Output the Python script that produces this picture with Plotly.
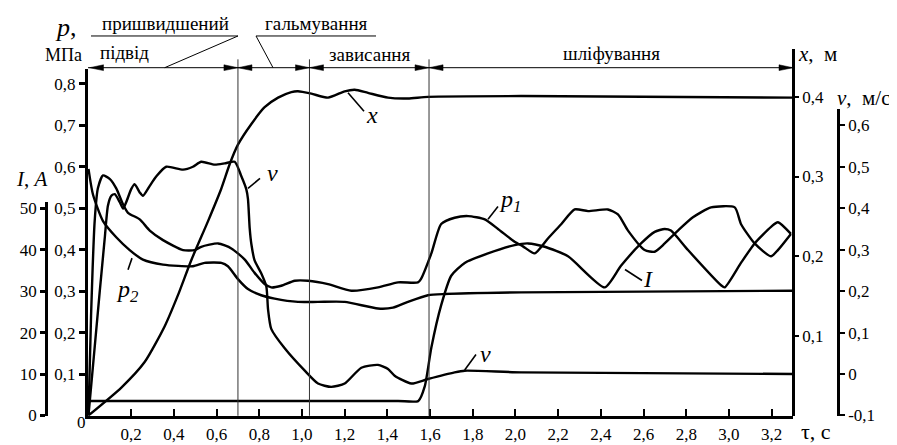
import plotly.graph_objects as go

# ---------------- data ----------------
tau_p1 = [0.0, 0.012, 0.029, 0.044, 0.068, 0.099, 0.130, 0.162, 0.185, 0.240, 0.287, 0.349,
          0.443, 0.497, 0.528, 0.607, 0.669, 0.732, 0.778, 0.825, 0.856, 0.903, 0.966, 1.028,
          1.122, 1.231, 1.356, 1.450, 1.543, 1.557, 1.606, 1.652, 1.715, 1.778, 1.856, 1.918,
          1.996, 2.035, 2.090, 2.152, 2.215, 2.277, 2.340, 2.433, 2.480, 2.527, 2.605, 2.652,
          2.699, 2.761, 2.831, 2.916, 3.027, 3.056, 3.120, 3.197, 3.229, 3.290]
p1 = [0.0, 0.24, 0.469, 0.548, 0.579, 0.571, 0.548, 0.509, 0.489, 0.473, 0.446, 0.423,
      0.399, 0.399, 0.407, 0.415, 0.403, 0.376, 0.344, 0.317, 0.309, 0.313, 0.325, 0.325,
      0.317, 0.301, 0.309, 0.321, 0.321, 0.329, 0.391, 0.462, 0.477, 0.481, 0.473, 0.450,
      0.419, 0.408, 0.391, 0.427, 0.462, 0.497, 0.493, 0.497, 0.485, 0.446, 0.399, 0.395,
      0.415, 0.446, 0.478, 0.502, 0.502, 0.462, 0.415, 0.384, 0.399, 0.438]

tau_p2 = [0.0, 0.021, 0.068, 0.130, 0.193, 0.255, 0.349, 0.489, 0.544, 0.622, 0.653, 0.700,
          0.747, 0.809, 0.872, 0.981, 1.075, 1.200, 1.356, 1.426, 1.496, 1.590, 1.668, 2.026, 3.300]
p2 = [0.595, 0.533, 0.469, 0.430, 0.399, 0.376, 0.364, 0.360, 0.368, 0.368, 0.360, 0.329,
      0.305, 0.290, 0.282, 0.274, 0.274, 0.274, 0.258, 0.260, 0.274, 0.290, 0.293, 0.297, 0.301]

tau_x = [0.0, 0.154, 0.263, 0.357, 0.419, 0.480, 0.560, 0.621, 0.662, 0.700, 0.763, 0.825,
         0.888, 0.950, 0.981, 1.044, 1.122, 1.200, 1.247, 1.309, 1.403, 1.496, 1.590, 2.026, 3.300]
x_pos = [0.0, 0.035, 0.067, 0.112, 0.151, 0.194, 0.244, 0.284, 0.316, 0.340, 0.366, 0.387,
         0.399, 0.406, 0.407, 0.404, 0.399, 0.407, 0.409, 0.405, 0.399, 0.398, 0.400, 0.401, 0.399]

tau_v = [0.0, 0.052, 0.076, 0.091, 0.107, 0.123, 0.146, 0.162, 0.177, 0.200, 0.216, 0.240,
         0.255, 0.287, 0.318, 0.364, 0.443, 0.489, 0.528, 0.591, 0.638, 0.685, 0.716, 0.739,
         0.747, 0.755, 0.763, 0.778, 0.809, 0.833, 0.841, 0.856, 0.919, 1.013, 1.075, 1.137,
         1.200, 1.278, 1.356, 1.403, 1.434, 1.512, 1.590, 1.715, 1.762, 2.026, 3.300]
v = [-0.1, 0.195, 0.327, 0.406, 0.430, 0.434, 0.415, 0.399, 0.415, 0.446, 0.458, 0.438,
     0.430, 0.454, 0.477, 0.500, 0.493, 0.500, 0.512, 0.505, 0.508, 0.512, 0.477, 0.446,
     0.422, 0.352, 0.313, 0.274, 0.243, 0.211, 0.156, 0.109, 0.062, 0.008, -0.023, -0.031,
     -0.023, 0.015, 0.022, 0.012, -0.004, -0.023, -0.012, 0.004, 0.008, 0.004, 0.0]

tau_I = [0.0, 0.5, 1.0, 1.45, 1.545, 1.575, 1.606, 1.652, 1.699, 1.762, 1.871, 1.996, 2.059,
         2.137, 2.246, 2.418, 2.494, 2.588, 2.652, 2.699, 2.728, 2.808, 2.963, 2.980, 3.056,
         3.120, 3.197, 3.229, 3.290]
I_cur = [3.5, 3.5, 3.5, 3.5, 3.5, 7.0, 16.4, 26.6, 33.7, 36.8, 39.1, 41.1, 41.5,
         40.7, 38.4, 30.9, 36.1, 41.5, 44.3, 45.0, 44.6, 39.9, 31.4, 30.9, 36.8,
         41.5, 45.5, 46.6, 43.8]

phase_bounds = [0.0, 0.70, 1.035, 1.595, 3.30]
phase_names = ["підвід", "гальмування", "зависання", "шліфування"]

tau_ticks = [0.2, 0.4, 0.6, 0.8, 1.0, 1.2, 1.4, 1.6, 1.8, 2.0, 2.2, 2.4, 2.6, 2.8, 3.0, 3.2]
tau_labels = ["0,2", "0,4", "0,6", "0,8", "1,0", "1,2", "1,4", "1,6", "1,8", "2,0",
              "2,2", "2,4", "2,6", "2,8", "3,0", "3,2"]
p_ticks = [0.1, 0.2, 0.3, 0.4, 0.5, 0.6, 0.7, 0.8]
p_labels = ["0,1", "0,2", "0,3", "0,4", "0,5", "0,6", "0,7", "0,8"]
x_ticks = [0.1, 0.2, 0.3, 0.4]
x_labels = ["0,1", "0,2", "0,3", "0,4"]
v_ticks = [-0.1, 0.0, 0.1, 0.2, 0.3, 0.4, 0.5, 0.6]
v_labels = ["-0,1", "0", "0,1", "0,2", "0,3", "0,4", "0,5", "0,6"]
I_ticks = [0, 10, 20, 30, 40, 50]
I_labels = ["0", "10", "20", "30", "40", "50"]

# ---------------- layout helpers (pixel -> paper) ----------------
W, H = 897, 445
def PX(x): return x / W
def PY(y): return 1 - y / H

SERIF = "Liberation Serif, Times New Roman, serif"
TF = dict(family=SERIF, size=17, color="black")
X0, X1 = 80.0, 785.0           # plot left / right in px
Y0 = 417.0                      # bottom (zero line) in px

fig = go.Figure()
ln = dict(color="black", width=2.4, shape="spline", smoothing=0.6)
fig.add_trace(go.Scatter(x=tau_p1, y=p1, mode="lines", line=ln, yaxis="y", name="p1"))
fig.add_trace(go.Scatter(x=tau_p2, y=p2, mode="lines", line=ln, yaxis="y", name="p2"))
fig.add_trace(go.Scatter(x=tau_x, y=x_pos, mode="lines", line=ln, yaxis="y2", name="x"))
fig.add_trace(go.Scatter(x=tau_v, y=v, mode="lines", line=ln, yaxis="y3", name="v"))
fig.add_trace(go.Scatter(x=tau_I, y=I_cur, mode="lines", line=ln, yaxis="y4", name="I"))

axcommon = dict(showgrid=False, zeroline=False, showline=True, linecolor="black",
                tickcolor="black", tickfont=TF)

fig.update_layout(
    width=W, height=H, margin=dict(l=0, r=0, t=0, b=0),
    paper_bgcolor="white", plot_bgcolor="rgba(0,0,0,0)", showlegend=False,
    xaxis=dict(domain=[PX(X0), PX(X1)], range=[-0.0023, 3.2998], anchor="y",
               linewidth=2.5, ticks="inside", ticklen=7, tickwidth=2,
               tickvals=tau_ticks, ticktext=tau_labels, ticklabelstandoff=1, **axcommon),
    yaxis=dict(domain=[PY(Y0), PY(61)], range=[-0.0007, 0.835], anchor="x", side="left",
               linewidth=3, ticks="outside", ticklen=6, tickwidth=2.5,
               tickvals=p_ticks, ticktext=p_labels, **axcommon),
    yaxis2=dict(domain=[PY(Y0), PY(40)], range=[-0.0004, 0.4602], anchor="free",
                position=PX(785), side="right", linewidth=2.5, ticks="outside",
                ticklen=4, tickwidth=2, tickvals=x_ticks, ticktext=x_labels, **axcommon),
    yaxis3=dict(domain=[PY(Y0), PY(101.7)], range=[-0.1007, 0.6394], anchor="free",
                position=PX(830), side="right", linewidth=2.5, ticks="outside",
                ticklen=5, tickwidth=2, tickvals=v_ticks, ticktext=v_labels, **axcommon),
    yaxis4=dict(domain=[PY(Y0), PY(197)], range=[-0.07, 51.57], anchor="free",
                position=PX(38), side="left", linewidth=2.5, ticks="outside",
                ticklen=5, tickwidth=2.5, tickvals=I_ticks, ticktext=I_labels, **axcommon),
)

shapes = []
def seg(x0, y0, x1, y1, w=1.0, color="black"):
    shapes.append(dict(type="line", xref="paper", yref="paper",
                       x0=PX(x0), y0=PY(y0), x1=PX(x1), y1=PY(y1),
                       line=dict(color=color, width=w)))

# phase boundary vertical lines (data x)
for b in phase_bounds[1:-1]:
    shapes.append(dict(type="line", xref="x", yref="paper", x0=b, x1=b,
                       y0=PY(Y0), y1=PY(50.7), line=dict(color="#333", width=1)))

# dimension line with arrowheads
DIM_Y = 59.3
seg(X0, DIM_Y, X1, DIM_Y, 1.0)
def tau_px(t): return 80.5 + t * 213.5
def arrow(tip_x, direction):
    L, h = 14, 3.0
    bx = tip_x - direction * L
    path = "M {},{} L {},{} L {},{} Z".format(PX(tip_x), PY(DIM_Y), PX(bx), PY(DIM_Y - h),
                                            PX(bx), PY(DIM_Y + h))
    shapes.append(dict(type="path", xref="paper", yref="paper", path=path,
                       fillcolor="black", line=dict(color="black", width=0.5)))
for i in range(len(phase_bounds) - 1):
    a = max(tau_px(phase_bounds[i]), X0 + 1.5)
    b = min(tau_px(phase_bounds[i + 1]), X1)
    arrow(a, -1)
    arrow(b, 1)

# top label underlines & leaders
seg(83, 26.7, 230, 26.7, 1.0)
seg(230, 26.7, 156.7, DIM_Y, 1.0)
seg(248, 26.7, 368, 26.7, 1.0)
seg(248, 26.7, 265, DIM_Y, 1.0)

# curve label leaders
seg(340, 85, 356, 104, 1.6)      # x
seg(240, 183.3, 252, 173, 1.6)   # v (top)
seg(480, 215, 490, 202, 1.6)     # p1
seg(124, 255, 120, 267, 1.6)     # p2
seg(456.7, 370, 468, 354, 1.6)   # v (bottom)
seg(617, 266.7, 634, 278, 1.6)   # I

fig.update_layout(shapes=shapes)

ann = []
def text(x, y, s, size=18, xanchor="center"):
    ann.append(dict(x=PX(x), y=PY(y), xref="paper", yref="paper", text=s, showarrow=False,
                    xanchor=xanchor, yanchor="middle",
                    font=dict(family=SERIF, size=size, color="black")))

text(157, 14, "пришвидшений", 19)
text(116, 44, phase_names[0], 19)
text(308, 14, phase_names[1], 19)
text(362, 46, phase_names[2], 19)
text(603, 45, phase_names[3], 19)

text(58, 18, "<i>p</i>,", 26)
text(55, 46, "МПа", 18)
text(24, 174, "<i>I</i>, <i>A</i>", 21)
text(788, 45, "<i>x</i>,  м", 21, xanchor="left")
text(827, 90, "<i>v</i>,  м/с", 21, xanchor="left")
text(791, 433, "τ, с", 22, xanchor="left")
text(73, 424, "0", 17)

text(364, 108, "<i>x</i>", 24)
text(264, 168, "<i>v</i>", 24)
text(502, 196, "<i>p<sub>1</sub></i>", 24)
text(119, 289, "<i>p<sub>2</sub></i>", 24)
text(477, 354, "<i>v</i>", 24)
text(640, 276, "<i>I</i>", 24)

fig.update_layout(annotations=ann)
fig.write_html("out.html", config={"displayModeBar": False})
